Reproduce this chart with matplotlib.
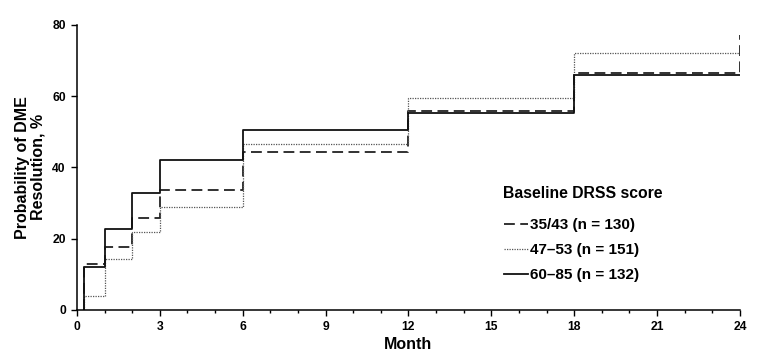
import numpy as np
import matplotlib.pyplot as plt
from matplotlib.ticker import MultipleLocator

plt.rcParams['font.family'] = ['Liberation Sans', 'DejaVu Sans']
plt.rcParams['font.weight'] = 'bold'

# step positions (months) and cumulative probability of DME resolution (%)
months = [0.25, 0.25, 1, 2, 3, 6, 12, 18, 24]
drss_35_43 = [0, 13.0, 17.8, 25.7, 33.6, 44.4, 55.9, 66.4, 77.2]
drss_47_53 = [0, 4.0, 14.2, 21.8, 28.8, 46.5, 59.6, 72.0, 72.0]
drss_60_85 = [0, 12.1, 22.7, 32.7, 42.2, 50.5, 55.4, 66.0, 66.0]

labels = ['35/43 (n = 130)', '47\u201353 (n = 151)', '60\u201385 (n = 132)']

fig = plt.figure(figsize=(7.8, 3.6), dpi=100)
ax = fig.add_axes([0.0987, 0.139, 0.85, 0.792])

l1, = ax.step(months, drss_35_43, where='post', color='#222222', lw=1.3,
              linestyle=(0, (6, 3)), label=labels[0])
l2, = ax.step(months, drss_47_53, where='post', color='#555555', lw=0.9,
              linestyle=(0, (1, 1)), label=labels[1])
l3, = ax.step(months, drss_60_85, where='post', color='#111111', lw=1.3,
              linestyle='-', label=labels[2])

ax.set_xlim(0, 24)
ax.set_ylim(0, 80)
ax.xaxis.set_major_locator(MultipleLocator(3))
ax.xaxis.set_minor_locator(MultipleLocator(1))
ax.yaxis.set_major_locator(MultipleLocator(20))
ax.tick_params(axis='both', which='major', direction='out', length=4.5, width=1,
               labelsize=8.7)
ax.tick_params(axis='x', which='minor', direction='out', length=2.5, width=1)
for lab in ax.get_xticklabels() + ax.get_yticklabels():
    lab.set_fontweight('bold')

for s in ['top', 'right']:
    ax.spines[s].set_visible(False)
for s in ['left', 'bottom']:
    ax.spines[s].set_linewidth(1.1)

ax.set_xlabel('Month', fontsize=11.5, fontweight='bold', labelpad=3)
ax.set_ylabel('Probability of DME\nResolution, %', fontsize=11.5,
              fontweight='bold', linespacing=1.05)
ax.yaxis.set_label_coords(-0.047, 0.5)

fig.text(0.645, 1 - 193/360, 'Baseline DRSS score', fontsize=11.3,
         fontweight='bold', va='center', ha='left')
leg = fig.legend(handles=[l1, l2, l3], loc='upper left',
                 bbox_to_anchor=(0.646, 1 - 218/360), frameon=False,
                 fontsize=11, handlelength=1.55, handletextpad=0.15,
                 labelspacing=0.72, borderpad=0, borderaxespad=0)
for t in leg.get_texts():
    t.set_fontweight('bold')

fig.savefig('out.png', dpi=100)
